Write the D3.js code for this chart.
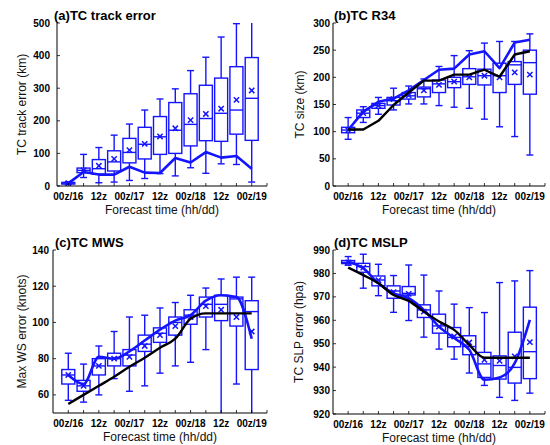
<!DOCTYPE html>
<html><head><meta charset="utf-8">
<script src="https://cdn.jsdelivr.net/npm/d3@7"></script>
<style>body{margin:0;background:#fff}svg{display:block;font-family:"Liberation Sans",Arial,sans-serif}</style>
</head><body>
<svg id="c" width="550" height="445"></svg>
<script>
// forecast steps (hours from 00z/16)
const hours = [0,6,12,18,24,30,36,42,48,54,60,66,72];
const tickHours = [0,6,12,18,24,30,36,42,48,54,60,66,72,78];
const labelHours = [0,12,24,36,48,60,72];
const xTickLabels = ["00z/16","12z","00z/17","12z","00z/18","12z","00z/19"];

// (a) track error
const aLow  = [5, 26, 10, 12, 17, 23, 38, 31, 56, 39, 68, 66, 12];
const aQ1   = [6, 41, 36, 46, 71, 83, 97, 100, 123, 139, 137, 159, 140];
const aMed  = [9, 48, 53, 74, 103, 128, 151, 171, 189, 207, 223, 233, 269];
const aQ3   = [11, 55, 81, 108, 146, 180, 213, 256, 283, 309, 331, 366, 394];
const aHigh = [13, 97, 118, 156, 190, 233, 267, 298, 354, 395, 457, 498, 520];
const aMean = [9, 48, 62, 83, 110, 129, 152, 177, 202, 221, 237, 264, 293];
const aBlue = [8, 43, 35, 35, 59, 41, 40, 86, 72, 104, 87, 92, 53];

// (b) R34
const bLow  = [86, 117, 132, 140, 151, 151, 148, 145, 143, 123, 109, 91, 57];
const bQ1   = [98, 126, 143, 149, 160, 164, 172, 181, 187, 186, 172, 187, 169];
const bMed  = [103, 134, 148, 157, 166, 179, 188, 192, 201, 203, 203, 223, 227];
const bQ3   = [108, 140, 152, 163, 172, 182, 195, 200, 216, 215, 226, 229, 250];
const bHigh = [126, 146, 163, 180, 184, 197, 220, 240, 249, 263, 266, 266, 280];
const bMean = [103, 134, 148, 160, 167, 176, 186, 192, 200, 203, 200, 209, 205];
const bBlue = [103, 137, 155, 161, 176, 195, 214, 216, 242, 248, 217, 264, 269];
const bBlack= [104, 104, 120, 149, 172, 194, 194, 205, 205, 214, 201, 242, 248];

// (c) MWS
const cLow  = [57, 56, 60, 69, 62, 65, 72, 76, 78, 85, 40, 66, 40];
const cQ1   = [66, 62, 71, 76, 76, 84, 89, 93, 99, 103, 101, 98, 74];
const cMed  = [71, 65, 76, 80, 82, 88, 94, 100, 104, 110, 110, 113, 106];
const cQ3   = [74, 68, 80, 83, 85, 93, 97, 103, 107, 114, 115, 114, 112];
const cHigh = [83, 77, 87, 95, 103, 104, 108, 111, 115, 119, 124, 125, 125];
const cMean = [71, 65, 76, 80, 81, 87, 93, 98, 103, 109, 107, 103, 95];
const cBlue = [71, 66, 81, 80, 84, 90, 96, 101, 104, 112, 115, 114, 91];
const cBlack= [55, 60, 65, 70, 75.5, 80.5, 86, 91, 102, 105, 105, 105, 105];

// (d) MSLP
const dLow  = [983.5, 973.7, 970.5, 963.4, 959.9, 952.8, 947.7, 943.4, 937.5, 932.2, 927.1, 925.8, 928.9];
const dQ1   = [984.2, 980.5, 974.7, 969.4, 970.8, 961.2, 954.5, 948.7, 945.3, 935.6, 934.9, 933.2, 935.1];
const dMed  = [984.7, 982.9, 977.2, 972.5, 971.5, 964.4, 957.6, 952.7, 948.8, 941.4, 940.7, 939.9, 946.6];
const dQ3   = [985.5, 984.3, 978.9, 974.7, 974.4, 966.6, 962.6, 956.9, 953.4, 946.3, 944.8, 954.9, 965.6];
const dHigh = [987.2, 988.2, 983.9, 979.1, 983.6, 979.3, 972.5, 966.9, 965.4, 963.3, 976.1, 976.8, 981.2];
const dMean = [984.7, 982.5, 977.1, 972.0, 971.3, 963.7, 957.3, 953.1, 950.5, 943.1, 942.7, 944.6, 950.7];
const dBlue = [985, 982.2, 975.8, 971.5, 969.4, 964.4, 957.3, 952.4, 947.4, 934.6, 935.6, 941.7, 960.2];
const dBlack= [982.5, 979.3, 975.8, 970.8, 968.3, 963.7, 959.5, 955.9, 949.5, 944, 944, 944, 944];

const aTicks = [0,100,200,300,400,500];
const bTicks = [0,50,100,150,200,250,300];
const cTicks = [60,80,100,120,140];
const dTicks = [920,930,940,950,960,970,980,990];

const BLUE = "#1414ff";
const svg = d3.select("#c");

const panels = [
  {id:"a", title:"(a)TC track error", ylabel:"TC track error (km)", yDomain:[0,500], yTicks:aTicks,
   low:aLow,q1:aQ1,med:aMed,q3:aQ3,high:aHigh,mean:aMean,blue:aBlue,black:null,
   xr:[53,267], axisStart:57, yr:[186,23], labX:50, ylabX:22, titleX:54, titleY:19.5, curve:d3.curveLinear},
  {id:"b", title:"(b)TC R34", ylabel:"TC size (km)", yDomain:[0,300], yTicks:bTicks,
   low:bLow,q1:bQ1,med:bMed,q3:bQ3,high:bHigh,mean:bMean,blue:bBlue,black:bBlack,
   xr:[333,545], axisStart:333, yr:[186,23], labX:330, ylabX:300, titleX:334, titleY:19.5, curve:d3.curveLinear},
  {id:"c", title:"(c)TC MWS", ylabel:"Max WS error (knots)", yDomain:[50,140], yTicks:cTicks,
   low:cLow,q1:cQ1,med:cMed,q3:cQ3,high:cHigh,mean:cMean,blue:cBlue,black:cBlack,
   xr:[53,267], axisStart:53, yr:[413,250], labX:49, ylabX:22, titleX:55, titleY:246.5, curve:d3.curveMonotoneX},
  {id:"d", title:"(d)TC MSLP", ylabel:"TC SLP error (hpa)", yDomain:[920,990], yTicks:dTicks,
   low:dLow,q1:dQ1,med:dMed,q3:dQ3,high:dHigh,mean:dMean,blue:dBlue,black:dBlack,
   xr:[333,545], axisStart:333, yr:[414,250], labX:330, ylabX:299, titleX:334, titleY:246.5, curve:d3.curveMonotoneX}
];

panels.forEach(p => {
  const x = d3.scaleLinear().domain([-6,78]).range(p.xr);
  const y = d3.scaleLinear().domain(p.yDomain).range(p.yr);
  const g = svg.append("g");
  const clipId = "clip-" + p.id;
  g.append("clipPath").attr("id", clipId).append("rect")
    .attr("x", p.axisStart).attr("y", p.yr[1]).attr("width", p.xr[1]-p.axisStart).attr("height", p.yr[0]-p.yr[1]);
  const pg = g.append("g").attr("clip-path", `url(#${clipId})`);

  const bw = 13, cw = 7;
  hours.forEach((h,i) => {
    const cx = x(h);
    const s = pg.append("g").attr("stroke", BLUE).attr("fill","none").attr("stroke-width",1.4);
    s.append("line").attr("x1",cx).attr("x2",cx).attr("y1",y(p.q3[i])).attr("y2",y(p.high[i]));
    s.append("line").attr("x1",cx).attr("x2",cx).attr("y1",y(p.q1[i])).attr("y2",y(p.low[i]));
    s.append("line").attr("x1",cx-cw/2).attr("x2",cx+cw/2).attr("y1",y(p.high[i])).attr("y2",y(p.high[i]));
    s.append("line").attr("x1",cx-cw/2).attr("x2",cx+cw/2).attr("y1",y(p.low[i])).attr("y2",y(p.low[i]));
    s.append("rect").attr("x",cx-bw/2).attr("width",bw)
      .attr("y",y(p.q3[i])).attr("height",Math.max(0.5,y(p.q1[i])-y(p.q3[i])));
    s.append("line").attr("x1",cx-bw/2).attr("x2",cx+bw/2).attr("y1",y(p.med[i])).attr("y2",y(p.med[i]));
    pg.append("path").attr("d", d3.symbol().type(d3.symbolX).size(20)())
      .attr("transform",`translate(${cx},${y(p.mean[i])})`)
      .attr("stroke",BLUE).attr("stroke-width",1.5).attr("fill","none");
  });

  const line = d3.line().x((d,i)=>x(hours[i])).y(d=>y(d)).curve(p.curve);
  pg.append("path").attr("d", line(p.blue)).attr("fill","none").attr("stroke",BLUE).attr("stroke-width",2.6).attr("stroke-linejoin","round");
  if (p.black) pg.append("path").attr("d", line(p.black)).attr("fill","none").attr("stroke","#000").attr("stroke-width",2.4).attr("stroke-linejoin","round");

  g.append("line").attr("x1",p.axisStart).attr("x2",p.axisStart).attr("y1",p.yr[0]).attr("y2",p.yr[1]).attr("stroke","#000").attr("stroke-width",1);
  g.append("line").attr("x1",p.axisStart).attr("x2",p.xr[1]).attr("y1",p.yr[0]).attr("y2",p.yr[0]).attr("stroke","#000").attr("stroke-width",1);
  tickHours.forEach(h => {
    g.append("line").attr("x1",x(h)).attr("x2",x(h)).attr("y1",p.yr[0]).attr("y2",p.yr[0]-3).attr("stroke","#000").attr("stroke-width",0.8);
  });
  labelHours.forEach((h,i) => {
    g.append("text").attr("x",x(h)).attr("y",p.yr[0]+13.5).attr("text-anchor","middle")
      .attr("font-size",10).attr("font-weight","bold").text(xTickLabels[i]);
  });
  p.yTicks.forEach(t => {
    g.append("line").attr("x1",p.axisStart).attr("x2",p.axisStart+3).attr("y1",y(t)).attr("y2",y(t)).attr("stroke","#000").attr("stroke-width",0.8);
    g.append("text").attr("x",p.labX).attr("y",y(t)).attr("dy","0.35em").attr("text-anchor","end")
      .attr("font-size",10).attr("font-weight","bold").text(t);
  });
  g.append("text").attr("x",(p.axisStart+p.xr[1])/2).attr("y",p.yr[0]+28).attr("text-anchor","middle")
    .attr("font-size",12).attr("fill","#111").text("Forecast time (hh/dd)");
  g.append("text").attr("transform",`translate(${p.ylabX},${(p.yr[0]+p.yr[1])/2}) rotate(-90)`)
    .attr("text-anchor","middle").attr("dy","0.35em").attr("font-size",12).attr("fill","#111").text(p.ylabel);
  g.append("text").attr("x",p.titleX).attr("y",p.titleY).attr("font-size",13).attr("font-weight","bold").text(p.title);
});
</script>
</body></html>
